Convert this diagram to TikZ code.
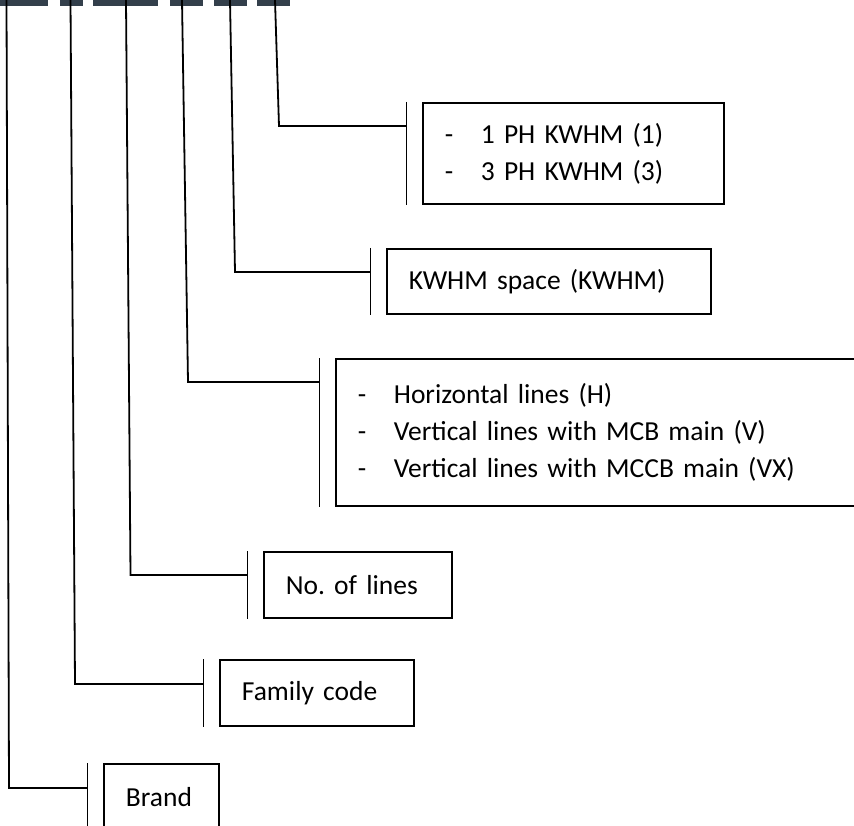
\documentclass[tikz,border=0pt]{standalone}
\usepackage{fontspec}
\setmainfont{Carlito}
\usetikzlibrary{positioning}
\definecolor{code-slate}{HTML}{333F4B}
\newcommand{\itemdash}{\makebox[36pt][l]{-}}
\frenchspacing

\begin{document}
\begin{tikzpicture}[
    x=1pt, y=-1pt,
    codebar/.style={fill=code-slate, draw=none, anchor=north west, inner sep=0pt, minimum height=6pt},
    itembox/.style={draw, line width=1.8pt, anchor=north west, inner xsep=22pt, inner ysep=0pt, align=left, font=\fontsize{27.5}{37}\selectfont},
    tick/.style={line width=1.8pt},
    link/.style={line width=1.8pt}
]
    \useasboundingbox (0,0) rectangle (854,826);

    % --- Code Bars ---
    \node (bar-brand) [codebar, minimum width=58pt] at (-10,0) {};
    \node (bar-family) [codebar, minimum width=23pt] at (60,0) {};
    \node (bar-lines) [codebar, minimum width=65pt] at (93,0) {};
    \node (bar-type) [codebar, minimum width=33pt] at (170,0) {};
    \node (bar-space) [codebar, minimum width=33pt] at (214,0) {};
    \node (bar-phase) [codebar, minimum width=33pt] at (257,0) {};

    % --- Boxes ---
    \node (phase) [itembox, text width=257pt, minimum height=101pt] at (422,102)
        {\itemdash 1 PH KWHM (1)\\ \itemdash 3 PH KWHM (3)};
    \node (space) [itembox, text width=280pt, minimum height=65pt] at (386,248) {KWHM space (KWHM)};
    \node (type) [itembox, text width=481pt, minimum height=147pt] at (335,358)
        {\itemdash Horizontal lines (H)\\ \itemdash Vertical lines with MCB main (V)\\ \itemdash Vertical lines with MCCB main (VX)};
    \node (lines) [itembox, text width=144pt, minimum height=66pt] at (263,551) {No. of lines};
    \node (family) [itembox, text width=150pt, minimum height=66pt] at (219,659) {Family code};
    \node (brand) [itembox, text width=71pt, minimum height=66pt] at (103,763) {Brand};

    % --- Ticks ---
    \coordinate (phase-tick) at ([xshift=-15.5pt]phase.north west);
    \coordinate (space-tick) at ([xshift=-15.5pt]space.north west);
    \coordinate (type-tick) at ([xshift=-15.5pt]type.north west);
    \coordinate (lines-tick) at ([xshift=-15.5pt]lines.north west);
    \coordinate (family-tick) at ([xshift=-15.5pt]family.north west);
    \coordinate (brand-tick) at ([xshift=-15.5pt]brand.north west);
    \draw [tick] (phase-tick) -- ([xshift=-15.5pt]phase.south west);
    \draw [tick] (space-tick) -- ([xshift=-15.5pt]space.south west);
    \draw [tick] (type-tick) -- ([xshift=-15.5pt]type.south west);
    \draw [tick] (lines-tick) -- ([xshift=-15.5pt]lines.south west);
    \draw [tick] (family-tick) -- ([xshift=-15.5pt]family.south west);
    \draw [tick] (brand-tick) -- ([xshift=-15.5pt]brand.south west);

    % --- Connections ---
    \coordinate (turn-brand) at (9,788);
    \coordinate (turn-family) at (75,684);
    \coordinate (turn-lines) at (130.5,575);
    \coordinate (turn-type) at (188,382);
    \coordinate (turn-space) at (235,272);
    \coordinate (turn-phase) at (279,126);

    \draw [link] (6.5,0) -- (turn-brand) -- (turn-brand -| brand-tick);
    \draw [link] (70.5,0) -- (turn-family) -- (turn-family -| family-tick);
    \draw [link] (126,0) -- (turn-lines) -- (turn-lines -| lines-tick);
    \draw [link] (182,0) -- (turn-type) -- (turn-type -| type-tick);
    \draw [link] (230,0) -- (turn-space) -- (turn-space -| space-tick);
    \draw [link] (275,0) -- (turn-phase) -- (turn-phase -| phase-tick);

\end{tikzpicture}
\end{document}
